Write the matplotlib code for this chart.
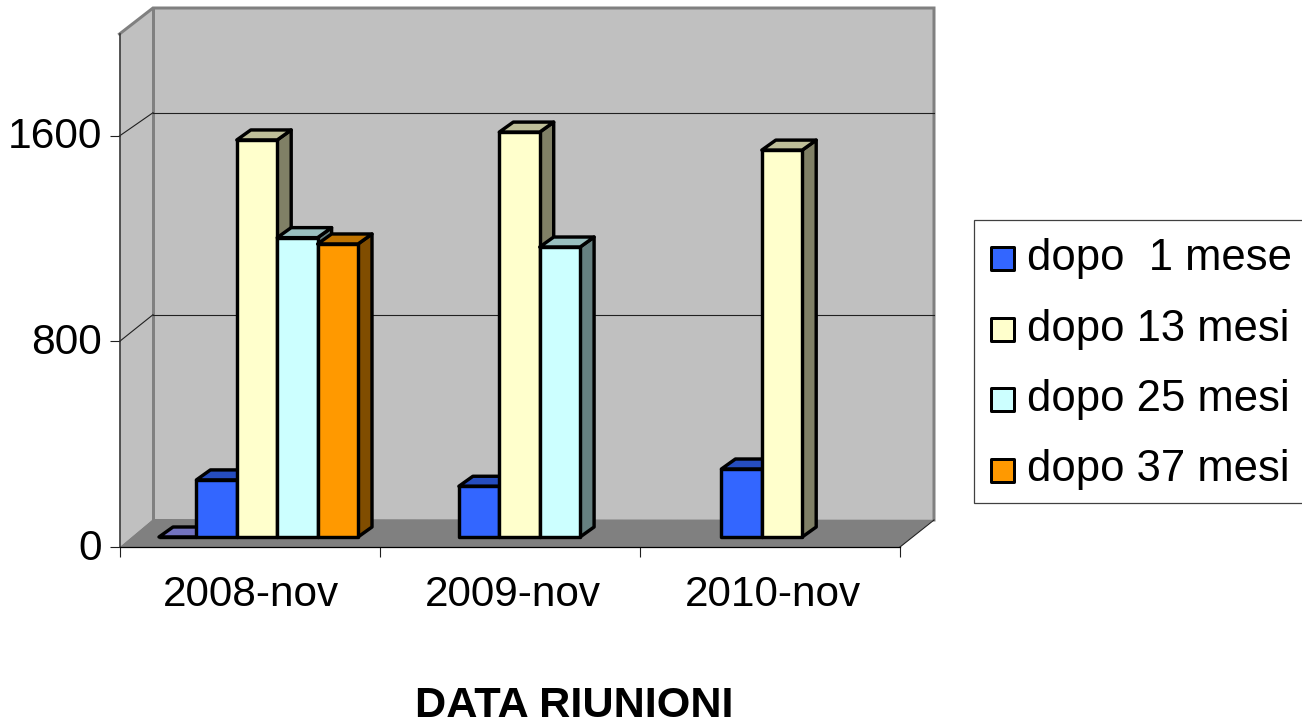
import numpy as np
import matplotlib
matplotlib.use('Agg')
import matplotlib.pyplot as plt
from matplotlib.patches import Polygon, Rectangle
from matplotlib.transforms import ScaledTranslation

plt.rcParams['font.family'] = ['Liberation Sans', 'DejaVu Sans']

categories = ['2008-nov', '2009-nov', '2010-nov']
series_names = ['dopo  1 mese', 'dopo 13 mesi', 'dopo 25 mesi', 'dopo 37 mesi']
hidden = [0, np.nan, np.nan]     # flat purple series, not in the legend
dopo_1 = [225, 200, 268]
dopo_13 = [1565, 1596, 1525]
dopo_25 = [1180, 1143, np.nan]
dopo_37 = [1155, np.nan, np.nan]
yticks = [0, 800, 1600]

all_series = [hidden, dopo_1, dopo_13, dopo_25, dopo_37]
colors = ['#9999FF', '#3366FF', '#FFFFCC', '#CCFFFF', '#FF9900']

W, H = 1302, 720
PX = 72 / 100            # one pixel in points
LW = 3.4 * PX            # bar outlines


def axes_px(fig, x0, x1, ytop, ybot, **kw):
    # axes placed from image pixel coordinates
    return fig.add_axes([x0 / W, 1 - ybot / H, (x1 - x0) / W, (ybot - ytop) / H], **kw)


def shade(col, k):
    return tuple(c * k for c in matplotlib.colors.to_rgb(col))


fig = plt.figure(figsize=(W / 100, H / 100), dpi=100, facecolor='white')

# walls and floor, in pixels
bg = axes_px(fig, 0, W, 0, H, zorder=0)
bg.set_xlim(0, W)
bg.set_ylim(H, 0)
bg.axis('off')
bg.add_patch(Polygon([(153, 8), (934, 8), (934, 519.5), (153, 519)], fc='#C0C0C0', ec='none'))
bg.add_patch(Polygon([(119.5, 34), (153, 8), (153, 519), (119.5, 547)], fc='#C0C0C0', ec='none'))
bg.add_patch(Polygon([(119.5, 547), (153, 519), (934, 519.5), (900, 547)], fc='#808080', ec='none'))
bg.plot([119.5, 153, 934, 934], [34, 8, 8, 520], color='#808080', lw=3 * PX, solid_joinstyle='miter')
bg.plot([153, 153], [8, 519], color='#808080', lw=3 * PX)
bg.plot([900, 934], [547, 520], color='#202020', lw=0.8)
for v in yticks[1:]:
    y_front = 547 - v * 0.2569
    y_back = 516.7 - v * 0.2525
    bg.plot([119.5, 153], [y_front, y_back], color='#202020', lw=0.8)
    bg.plot([153, 934], [y_back, y_back], color='#202020', lw=0.8)

# front plane: axis lines, ticks, labels
ax = axes_px(fig, 119.5, 900, 34, 547, zorder=1)
ax.patch.set_visible(False)
ax.set_xlim(0, 3)
ax.set_ylim(0, 513 / 0.2569)
for s in ['top', 'right']:
    ax.spines[s].set_visible(False)
ax.spines['left'].set_color('#303030')
ax.spines['left'].set_linewidth(1.1)
ax.spines['bottom'].set_color('black')
ax.spines['bottom'].set_linewidth(0.9)
ax.set_yticks(yticks)
ax.set_yticklabels([str(v) for v in yticks], fontsize=42.5 * PX)
ax.set_xticks([0, 1, 2, 3])
ax.set_xticklabels([])
ax.set_xticks([0.506, 1.513, 2.51], minor=True)
ax.set_xticklabels(categories, minor=True, fontsize=42.3 * PX)
ax.tick_params(axis='both', which='major', length=7.2, width=0.8, color='#202020')
ax.tick_params(axis='y', which='major', pad=5.2)
ax.tick_params(axis='x', which='minor', length=0, pad=20.5)
for lab in ax.get_yticklabels():
    lab.set_transform(lab.get_transform() + ScaledTranslation(0, 3 / 100, fig.dpi_scale_trans))

# plane through the bars
bx = axes_px(fig, 125.75, 913.25, 30, 537, zorder=2)
bx.patch.set_visible(False)
bx.axis('off')
bx.set_xlim(0, 3)
bx.set_ylim(0, 507 / 0.2537)
bar_w = 40.4 / 262.5
depth_x = 14 / 262.5
depth_y = 10 / 0.2537

for c in range(len(categories)):
    for s, vals in enumerate(all_series):
        v = vals[c]
        if np.isnan(v):
            continue
        x0 = c + 0.5 + (s - 2.5) * bar_w
        x1 = x0 + bar_w
        if s == 0:
            x0 += 3 / 262.5   # flat bar starts a little later
        col = colors[s]
        kw = dict(ec='black', lw=LW, joinstyle='round', clip_on=False)
        bx.add_patch(Polygon([(x1, 0), (x1 + depth_x, depth_y), (x1 + depth_x, v + depth_y), (x1, v)],
                             fc=shade(col, 0.5), **kw))
        bx.add_patch(Polygon([(x0, v), (x0 + depth_x, v + depth_y), (x1 + depth_x, v + depth_y), (x1, v)],
                             fc=shade(col, 0.75), **kw))
        bx.add_patch(Polygon([(x0, 0), (x1, 0), (x1, v), (x0, v)], fc=col, **kw))

# legend box runs off the right edge of the picture
bg.add_patch(Rectangle((974, 220), 340, 283, fc='white', ec='#404040', lw=0.9))
for i, name in enumerate(series_names):
    yc = 258.7 + 70.5 * i
    bg.add_patch(Rectangle((990.5, yc - 11.5), 23, 23, fc=colors[i + 1], ec='black', lw=3 * PX,
                           joinstyle='round'))
    bg.text(1027, yc + 11.3, name, fontsize=43.7 * PX, va='baseline', ha='left')

fig.text(574 / W, 1 - 717 / H, 'DATA RIUNIONI', fontsize=43.3 * PX, fontweight='bold',
         ha='center', va='baseline')

fig.savefig('out.png', dpi=100)
